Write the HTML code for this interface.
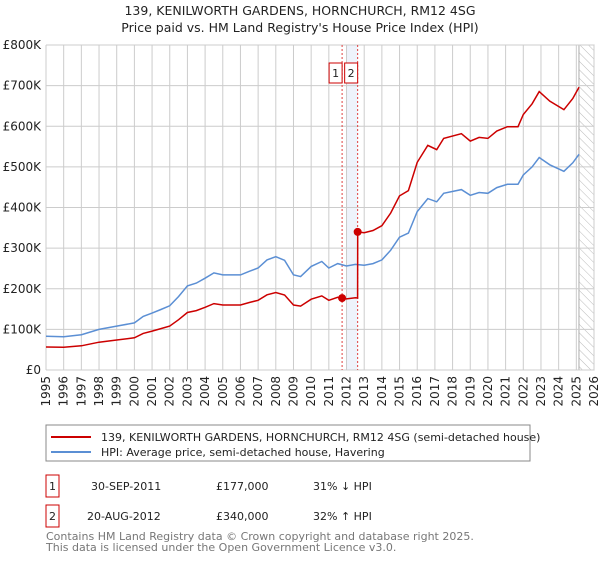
<!DOCTYPE html>
<html><head><meta charset="utf-8"><style>
body{margin:0;background:#fff;width:600px;height:560px;overflow:hidden;font-family:"DejaVu Sans","Liberation Sans",sans-serif;}
svg text{font-family:"DejaVu Sans","Liberation Sans",sans-serif;}
</style></head><body>
<svg id="chart" width="600" height="560" xmlns="http://www.w3.org/2000/svg">
<text x="300" y="15" font-size="12.5" text-anchor="middle" fill="#222">139, KENILWORTH GARDENS, HORNCHURCH, RM12 4SG</text>
<text x="300" y="32" font-size="12.5" text-anchor="middle" fill="#222">Price paid vs. HM Land Registry's House Price Index (HPI)</text>
<g id="grid"></g>
<g id="marks"></g>
<g id="axes"></g>
<g>
<rect x="46" y="425" width="484" height="36" fill="#fff" stroke="#888" stroke-width="1"/>
<line x1="51" y1="437" x2="91" y2="437" stroke="#cc0000" stroke-width="2"/>
<text x="101" y="441" font-size="11" fill="#222">139, KENILWORTH GARDENS, HORNCHURCH, RM12 4SG (semi-detached house)</text>
<line x1="51" y1="452" x2="91" y2="452" stroke="#5b8fd4" stroke-width="2"/>
<text x="101" y="456" font-size="11" fill="#222">HPI: Average price, semi-detached house, Havering</text>
</g>
<g font-size="11" fill="#222">
<rect x="46" y="475" width="13" height="22" fill="#fff" stroke="#cc0000"/>
<text x="52.5" y="490" text-anchor="middle">1</text>
<text x="91" y="490">30-SEP-2011</text>
<text x="216" y="490">£177,000</text>
<text x="313" y="490">31% ↓ HPI</text>
<rect x="46" y="505" width="13" height="22" fill="#fff" stroke="#cc0000"/>
<text x="52.5" y="520" text-anchor="middle">2</text>
<text x="87" y="520">20-AUG-2012</text>
<text x="216" y="520">£340,000</text>
<text x="313" y="520">32% ↑ HPI</text>
</g>
<text x="46" y="540" font-size="11" fill="#777">Contains HM Land Registry data © Crown copyright and database right 2025.</text>
<text x="46" y="551" font-size="11" fill="#777">This data is licensed under the Open Government Licence v3.0.</text>
</svg>
<script>
const hpiYears=[1995,1996,1997,1998,1999,2000,2000.5,2001,2001.5,2002,2002.5,2003,2003.5,2004,2004.5,2005,2006,2006.5,2007,2007.5,2008,2008.5,2009,2009.4,2010,2010.6,2011,2011.5,2012,2012.5,2013,2013.5,2014,2014.5,2015,2015.5,2016,2016.6,2017.1,2017.5,2018.5,2019,2019.5,2020,2020.5,2021.1,2021.7,2022,2022.5,2022.9,2023.5,2024.3,2024.8,2025.15];
const hpiValues=[83,82,87,100,108,116,132,140,149,158,181,207,214,226,239,234,234,243,251,271,279,270,234,230,255,267,251,262,256,260,258,262,271,295,327,337,390,422,414,435,444,430,437,435,449,457,457,480,500,523,505,489,510,531];
const saleYears=[2011.75,2012.63];
const salePrices=[177,340];
const yTicks=[0,100,200,300,400,500,600,700,800];
const yTickLabels=["£0","£100K","£200K","£300K","£400K","£500K","£600K","£700K","£800K"];
const xTicks=[1995,1996,1997,1998,1999,2000,2001,2002,2003,2004,2005,2006,2007,2008,2009,2010,2011,2012,2013,2014,2015,2016,2017,2018,2019,2020,2021,2022,2023,2024,2025,2026];

const X0=46,X1=594,Y0=370,Y1=45;
const x=v=>X0+(v-1995)/(2026-1995)*(X1-X0);
const y=v=>Y0-v/800*(Y0-Y1);
const NS="http://www.w3.org/2000/svg";
function mk(tag,attrs,parent){const e=document.createElementNS(NS,tag);for(const k in attrs)e.setAttribute(k,attrs[k]);parent.appendChild(e);return e;}
const grid=document.getElementById('grid'),marks=document.getElementById('marks'),axes=document.getElementById('axes');
function hpiAt(t){for(let i=0;i<hpiYears.length-1;i++){if(t>=hpiYears[i]&&t<=hpiYears[i+1]){const f=(t-hpiYears[i])/(hpiYears[i+1]-hpiYears[i]);return hpiValues[i]+f*(hpiValues[i+1]-hpiValues[i]);}}return hpiValues[hpiValues.length-1];}

const band=mk('rect',{x:x(2012.0),y:Y1,width:x(saleYears[1])-x(2012.0),height:Y0-Y1,fill:'#eef3fb'},grid);


const defs=mk('defs',{},grid);
const pat=mk('pattern',{id:'hatch',width:6,height:6,patternUnits:'userSpaceOnUse',patternTransform:'rotate(-45)'},defs);
mk('line',{x1:0,y1:0,x2:0,y2:6,stroke:'#bbb','stroke-width':1},pat);
const hatch=mk('rect',{x:x(2025.15),y:Y1,width:X1-x(2025.15),height:Y0-Y1,fill:'url(#hatch)',stroke:'#999','stroke-width':0.8},grid);


xTicks.forEach(t=>{const l=mk('line',{x1:x(t),y1:Y1,x2:x(t),y2:Y0,stroke:'#ccc','stroke-width':1},grid);

});
yTicks.forEach((t,i)=>{const l=mk('line',{x1:X0,y1:y(t),x2:X1,y2:y(t),stroke:'#ccc','stroke-width':1},grid);


const tx=mk('text',{x:X0-5,y:y(t)+4,'font-size':12,'text-anchor':'end',fill:'#222'},axes);tx.textContent=yTickLabels[i];

});
xTicks.forEach(t=>{const tx=mk('text',{x:0,y:0,'font-size':12,'text-anchor':'end',fill:'#222',transform:`translate(${x(t)+4},376) rotate(-90)`},axes);tx.textContent=t;

});
saleYears.forEach((s,i)=>{const l=mk('line',{x1:x(s),y1:Y1,x2:x(s),y2:Y0,stroke:'#e04040','stroke-width':1,'stroke-dasharray':'2,2'},marks);


const bx=(i==0?x(s)-6.5:x(s)-6.5);
const r=mk('rect',{x:bx-6.5,y:63,width:13,height:20,fill:'#fff',stroke:'#cc0000'},marks);


const tx=mk('text',{x:bx,y:77,'font-size':11,'text-anchor':'middle',fill:'#222'},marks);tx.textContent=String(i+1);});
let d='';hpiYears.forEach((t,i)=>{d+=(i?'L':'M')+x(t).toFixed(1)+','+y(hpiValues[i]).toFixed(1);});
const hp=mk('path',{d:d,fill:'none',stroke:'#5b8fd4','stroke-width':1.5},marks);


function redAt(t){if(t<saleYears[1]){return salePrices[0]*hpiAt(t)/hpiAt(saleYears[0]);}return salePrices[1]*hpiAt(t)/hpiAt(saleYears[1]);}
const pts=[...hpiYears,saleYears[1]-0.001,saleYears[1]].sort((a,b)=>a-b);
let d2='';pts.forEach((t,i)=>{d2+=(i?'L':'M')+x(t).toFixed(1)+','+y(redAt(t)).toFixed(1);});
const rp=mk('path',{d:d2,fill:'none',stroke:'#cc0000','stroke-width':1.5},marks);


saleYears.forEach((s,i)=>{const c=mk('circle',{cx:x(s),cy:y(salePrices[i]),r:4,fill:'#cc0000'},marks);

});
</script>
</body></html>
